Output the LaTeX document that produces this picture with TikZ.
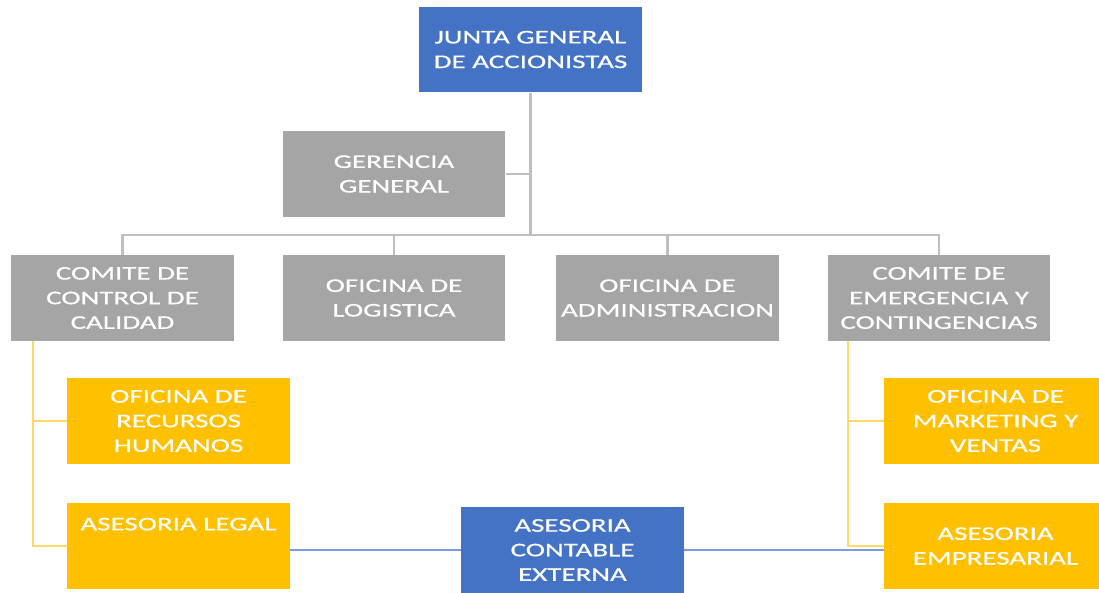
\documentclass[tikz,border=0pt]{standalone}
\usepackage{fontspec}
\setmainfont[FakeStretch=1.5,FakeBold=0.6]{Carlito}
\definecolor{boxblue}{HTML}{4472C4}
\definecolor{boxgray}{HTML}{A5A5A5}
\definecolor{boxyellow}{HTML}{FFC000}
\definecolor{linegray}{HTML}{BFBFBF}
\definecolor{lineyellow}{HTML}{FFD966}
\definecolor{lineblue}{HTML}{7C9BDC}
\begin{document}
\begin{tikzpicture}[x=0.02cm, y=-0.02cm,
  orgbox/.style={minimum width=4.46cm, minimum height=1.72cm, inner sep=1pt,
    align=center, text=white, font=\fontsize{11}{14}\selectfont},
  bluebox/.style={orgbox, fill=boxblue},
  graybox/.style={orgbox, fill=boxgray},
  yellowbox/.style={orgbox, fill=boxyellow},
  grayline/.style={linegray, line width=1.2pt},
  yellowline/.style={lineyellow, line width=1.2pt},
  blueline/.style={lineblue, line width=1.2pt}]
\useasboundingbox (0,0) rectangle (1099,592);

% Top: shareholders and general management
\node[bluebox] (junta) at (530.5,49.5) {JUNTA GENERAL\\DE ACCIONISTAS};
\node[graybox] (gerencia) at (394,174) {GERENCIA\\GENERAL};

% Second row
\node[graybox] (calidad) at (122.5,298) {COMITE DE\\CONTROL DE\\CALIDAD};
\node[graybox] (logistica) at (394,298) {OFICINA DE\\LOGISTICA};
\node[graybox] (admin) at (667.5,298) {OFICINA DE\\ADMINISTRACION};
\node[graybox] (emergencia) at (939,298) {COMITE DE\\EMERGENCIA Y\\CONTINGENCIAS};

% Yellow offices
\node[yellowbox] (rrhh) at (178.5,421) {OFICINA DE\\RECURSOS\\HUMANOS};
\node[yellowbox] (legal) at (178.5,546) {\raisebox{-3pt}{ASESORIA LEGAL}\\\mbox{}\\\mbox{}};
\node[yellowbox] (marketing) at (995.5,421) {OFICINA DE\\MARKETING Y\\VENTAS};
\node[yellowbox] (empresarial) at (995.5,546) {ASESORIA\\EMPRESARIAL};

% External accounting
\node[bluebox] (contable) at (572.5,550) {ASESORIA\\CONTABLE\\EXTERNA};

% Gray tree lines
\coordinate (bus) at (530.5,235);
\draw[grayline] (junta.south) -- (bus);
\draw[grayline] (gerencia.east) -- (gerencia.east -| bus);
\draw[grayline] (calidad.north) -- (calidad.north |- bus) -- (emergencia.north |- bus) -- (emergencia.north);
\draw[grayline] (logistica.north) -- (logistica.north |- bus);
\draw[grayline] (admin.north) -- (admin.north |- bus);

% Yellow branch lines
\draw[yellowline] ([xshift=0.44cm]calidad.south west) |- (legal.west);
\draw[yellowline] ([xshift=0.44cm]calidad.south west |- rrhh.west) -- (rrhh.west);
\draw[yellowline] ([xshift=0.42cm]emergencia.south west) |- (empresarial.west);
\draw[yellowline] ([xshift=0.42cm]emergencia.south west |- marketing.west) -- (marketing.west);

% Blue lines
\draw[blueline] (contable.west) -- (contable.west -| legal.east);
\draw[blueline] (contable.east) -- (contable.east -| empresarial.west);

\end{tikzpicture}
\end{document}
